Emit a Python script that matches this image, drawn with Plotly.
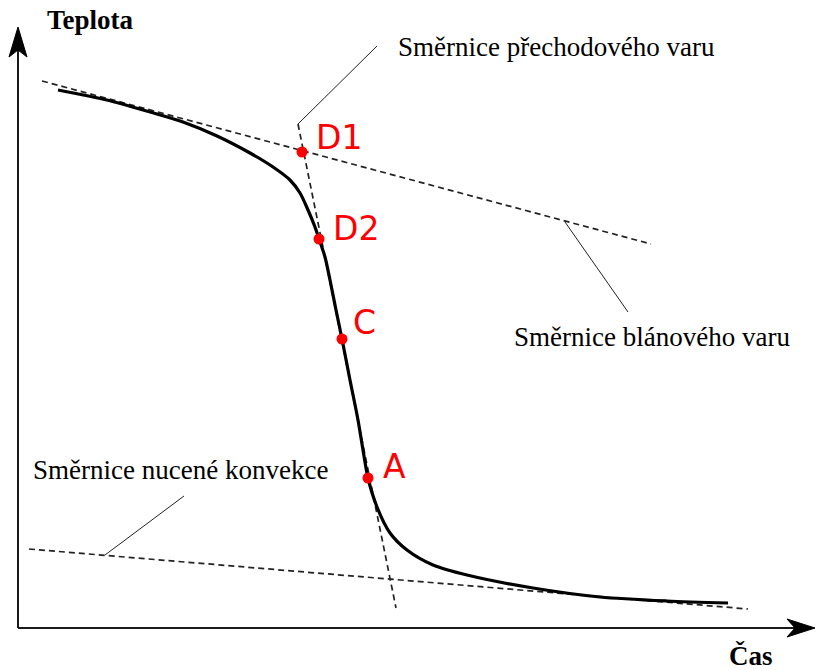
import plotly.graph_objects as go

# Cooling curve of a quenched body: time (t) vs temperature (T), arbitrary units
time = [40, 89, 132, 165, 199, 232, 255, 272, 282, 290, 297, 301, 307, 312,
        318, 324, 332, 340, 345, 350, 359, 372, 389, 415, 449, 515, 582, 649, 710]
temp = [538, 528, 516, 506, 492, 475, 461, 448, 435, 418, 401, 389, 371, 348,
        318, 289, 248, 208, 178, 150, 121, 95, 78, 63, 53, 40, 31, 27, 25]

# Characteristic points on the curve
pt_names = ["D1", "D2", "C", "A"]
pt_time = [284, 301, 324, 350]
pt_temp = [476, 389, 289, 150]
pt_label_time = [296, 313, 333, 363]
pt_label_temp = [491, 400, 306, 162]

# Slope (tangent) lines: [t_start, t_end], [T_start, T_end]
film_t, film_T = [24, 633], [547, 384]          # film boiling
trans_t, trans_T = [280, 378], [504, 20]        # transition boiling
conv_t, conv_T = [11, 730], [79, 19]            # forced convection

# Callout texts and their leader lines
callouts = ["Směrnice přechodového varu", "Směrnice blánového varu",
            "Směrnice nucené konvekce"]
callout_t = [378, 494, 13]
callout_T = [581, 291, 158]
leader_t = [[280, 359], [547, 610], [87, 166]]
leader_T = [[504, 582], [406, 316], [73, 132]]

# Axes extents and arrowheads
x_axis_end = 797
y_axis_end = 601
x_head_t, x_head_T = [797, 769, 777, 769], [0, 9, 0, -9]
y_head_t, y_head_T = [0, -9, 0, 9], [601, 571, 578, 571]

fig = go.Figure()

dash_style = dict(color="#222222", width=1.7, dash="6px,4px")
for tt, TT in [(film_t, film_T), (trans_t, trans_T), (conv_t, conv_T)]:
    fig.add_trace(go.Scatter(x=tt, y=TT, mode="lines", line=dash_style,
                             hoverinfo="skip"))

for tt, TT in zip(leader_t, leader_T):
    fig.add_trace(go.Scatter(x=tt, y=TT, mode="lines",
                             line=dict(color="#222222", width=1),
                             hoverinfo="skip"))

fig.add_trace(go.Scatter(x=time, y=temp, mode="lines",
                         line=dict(color="black", width=3.2, shape="spline",
                                   smoothing=0.8),
                         hoverinfo="skip"))

fig.add_trace(go.Scatter(x=pt_time, y=pt_temp, mode="markers",
                         marker=dict(color="#ff0000", size=11),
                         hoverinfo="skip"))

# Axes with arrowheads
axis_line = dict(color="#1a1a1a", width=2)
fig.add_shape(type="line", x0=0, y0=0, x1=x_axis_end - 20, y1=0, line=axis_line)
fig.add_shape(type="line", x0=0, y0=0, x1=0, y1=y_axis_end - 20, line=axis_line)


def head_path(ts, Ts):
    pts = " L ".join(f"{a},{b}" for a, b in zip(ts, Ts))
    return f"M {pts} Z"


for ts, Ts in [(x_head_t, x_head_T), (y_head_t, y_head_T)]:
    fig.add_shape(type="path", path=head_path(ts, Ts),
                  fillcolor="black", line=dict(color="black", width=1))

serif = "Liberation Serif, Times New Roman, serif"
for txt, tt, TT in zip(callouts, callout_t, callout_T):
    fig.add_annotation(x=tt, y=TT, text=txt, showarrow=False,
                       xanchor="left", yanchor="middle",
                       font=dict(family=serif, size=27, color="black"))

for txt, tt, TT in zip(pt_names, pt_label_time, pt_label_temp):
    fig.add_annotation(x=tt, y=TT, text=txt, showarrow=False,
                       xanchor="left", yanchor="middle",
                       font=dict(family="DejaVu Sans", size=33, color="#ff0000"))

fig.add_annotation(x=72, y=608, text="<b>Teplota</b>", showarrow=False,
                   xanchor="center", yanchor="middle",
                   font=dict(family=serif, size=27, color="black"))
fig.add_annotation(x=733, y=-28, text="<b>Čas</b>", showarrow=False,
                   xanchor="center", yanchor="middle",
                   font=dict(family=serif, size=27, color="black"))

fig.update_layout(
    width=816, height=670,
    margin=dict(l=0, r=0, t=0, b=0),
    paper_bgcolor="white", plot_bgcolor="white",
    showlegend=False,
    xaxis=dict(range=[-18, 798], visible=False, fixedrange=True),
    yaxis=dict(range=[-42, 628], visible=False, fixedrange=True),
)

fig.write_html("out.html")
